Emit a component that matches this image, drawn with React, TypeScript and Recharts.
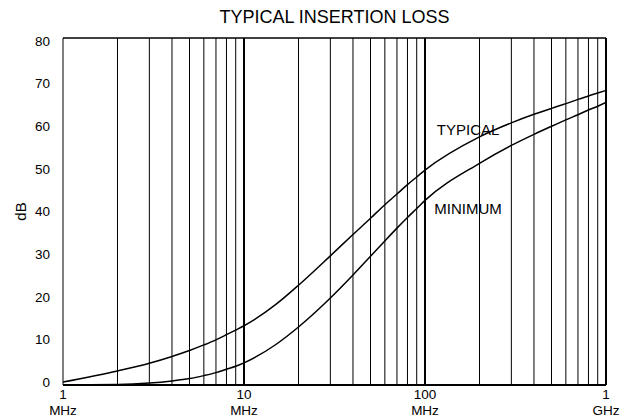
import { LineChart, Line, XAxis, YAxis, ReferenceLine, ReferenceDot } from 'recharts'

const FREQS = [1, 2, 3, 4, 5, 6, 7, 8, 9, 10, 15, 20, 30, 40, 50, 60, 70, 80, 90, 100, 200, 300, 400, 500, 600, 700, 800, 900, 1000]
const TYPICAL = [0, 2.6, 4.4, 6.0, 7.4, 8.7, 9.9, 11.1, 12.2, 13.2, 18.2, 22.7, 29.6, 34.6, 38.4, 41.6, 44.1, 46.3, 48.1, 49.7, 57.5, 60.8, 62.8, 64.2, 65.3, 66.3, 67.1, 67.8, 68.4]
const MINIMUM = [-0.7, -0.6, -0.25, 0.25, 0.8, 1.5, 2.2, 3.0, 3.7, 4.5, 8.8, 12.9, 19.7, 25.1, 29.5, 33.1, 36.1, 38.6, 40.7, 42.6, 51.3, 55.5, 58.1, 60.0, 61.5, 62.7, 63.8, 64.7, 65.6]

const MINOR_GRID = [2, 3, 4, 5, 6, 7, 8, 9, 20, 30, 40, 50, 60, 70, 80, 90, 200, 300, 400, 500, 600, 700, 800, 900]
const MAJOR_GRID = [10, 100]

const X_TICKS = [1, 10, 100, 1000]
const X_TICK_NUMBERS = ['1', '10', '100', '1']
const X_TICK_UNITS = ['MHz', 'MHz', 'MHz', 'GHz']
const Y_TICKS = [0, 10, 20, 30, 40, 50, 60, 70, 80]

const Y_DOMAIN: [number, number] = [-0.7, 80.7]
const FONT = '"Liberation Sans", Arial, sans-serif'

const data = FREQS.map((f, i) => ({ f, typical: TYPICAL[i], minimum: MINIMUM[i] }))

interface TickProps {
  x?: number
  y?: number
  payload?: { value: number }
}

function FreqTick({ x = 0, y = 0, payload }: TickProps) {
  const i = X_TICKS.indexOf(payload?.value ?? -1)
  if (i < 0) return null
  return (
    <g>
      <text x={x} y={y + 14} textAnchor="middle" fontSize={13.5} fontFamily={FONT} fill="#000">
        {X_TICK_NUMBERS[i]}
      </text>
      <text x={x} y={y + 30} textAnchor="middle" fontSize={13.5} fontFamily={FONT} fill="#000">
        {X_TICK_UNITS[i]}
      </text>
    </g>
  )
}

export default function App() {
  return (
    <div style={{ position: 'absolute', left: 0, top: 0, width: 626, height: 417, background: '#fff', fontFamily: FONT }}>
      <div
        style={{
          position: 'absolute',
          top: 6,
          left: 63,
          width: 543,
          textAlign: 'center',
          fontSize: 18,
          lineHeight: '22px',
          color: '#000',
        }}
      >
        TYPICAL INSERTION LOSS
      </div>
      <LineChart width={626} height={417} data={data} margin={{ top: 38, right: 20, left: 0, bottom: 0 }}>
        <XAxis
          dataKey="f"
          type="number"
          scale="log"
          domain={[1, 1000]}
          ticks={X_TICKS}
          tick={<FreqTick />}
          tickLine={false}
          tickSize={0}
          tickMargin={0}
          axisLine={{ stroke: '#000', strokeWidth: 2 }}
          height={32}
          allowDataOverflow
        />
        <YAxis
          type="number"
          domain={Y_DOMAIN}
          ticks={Y_TICKS}
          tick={{ fontSize: 13.5, fill: '#000', fontFamily: FONT }}
          tickLine={false}
          tickSize={0}
          tickMargin={13}
          axisLine={{ stroke: '#000', strokeWidth: 1 }}
          width={63}
          allowDataOverflow
          label={{
            value: 'dB',
            angle: -90,
            position: 'insideLeft',
            offset: 21,
            style: { fontSize: 15, fill: '#000', fontFamily: FONT, textAnchor: 'middle' },
          }}
        />
        {MINOR_GRID.map((f) => (
          <ReferenceLine key={f} x={f} stroke="#000" strokeWidth={1} ifOverflow="visible" />
        ))}
        {MAJOR_GRID.map((f) => (
          <ReferenceLine key={f} x={f} stroke="#000" strokeWidth={2} ifOverflow="visible" />
        ))}
        <ReferenceLine x={1000} stroke="#000" strokeWidth={2} ifOverflow="visible" />
        <ReferenceLine y={Y_DOMAIN[1]} stroke="#000" strokeWidth={1.5} ifOverflow="visible" />
        <Line type="monotone" dataKey="typical" stroke="#000" strokeWidth={1.5} dot={false} isAnimationActive={false} />
        <Line type="monotone" dataKey="minimum" stroke="#000" strokeWidth={1.5} dot={false} isAnimationActive={false} />
        <ReferenceDot
          x={173}
          y={59.1}
          r={0}
          stroke="none"
          fill="none"
          label={{ value: 'TYPICAL', position: 'center', fontSize: 15, fill: '#000', fontFamily: FONT }}
        />
        <ReferenceDot
          x={173}
          y={40.6}
          r={0}
          stroke="none"
          fill="none"
          label={{ value: 'MINIMUM', position: 'center', fontSize: 15, fill: '#000', fontFamily: FONT }}
        />
      </LineChart>
    </div>
  )
}
